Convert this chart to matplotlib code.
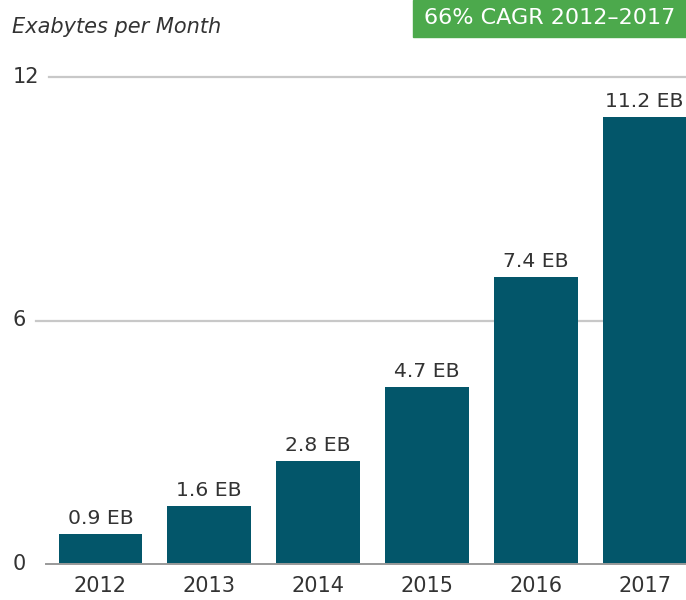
import matplotlib.pyplot as plt
from matplotlib.patches import Rectangle
from matplotlib.transforms import blended_transform_factory

plt.rcParams['font.family'] = ['DejaVu Sans']

# DATA
years = ['2012', '2013', '2014', '2015', '2016', '2017']
heights = [0.74, 1.43, 2.54, 4.36, 7.07, 11.01]   # bar heights as drawn
bar_labels = ['0.9 EB', '1.6 EB', '2.8 EB', '4.7 EB', '7.4 EB', '11.2 EB']
yticks = [0, 6, 12]

bar_color = '#03566a'
text_color = '#333333'

fig = plt.figure(figsize=(6.86, 6.0), dpi=100)
ax = fig.add_axes([46 / 686, 36 / 600, 640 / 686, 487 / 600])

x = range(len(years))
bars = ax.bar(x, heights, width=0.77, color=bar_color, zorder=3)

for rect, lab in zip(bars, bar_labels):
    ax.annotate(lab, (rect.get_x() + rect.get_width() / 2, rect.get_height()),
                xytext=(0, 4.5), textcoords='offset points', ha='center', va='bottom',
                fontsize=14.7, color=text_color)

ax.set_xlim(-0.5, 5.38)
ax.set_ylim(0, 12)

# grid lines (start just right of the tick labels)
ax.plot([-0.593, 5.38], [6, 6], color='#c8c8c8', lw=1.6, clip_on=False, zorder=1)
ax.plot([-0.474, 5.38], [12, 12], color='#c8c8c8', lw=1.6, clip_on=False, zorder=1)
ax.plot([-0.5, 5.38], [0, 0], color='#999999', lw=1.4, clip_on=False, zorder=4)

for s in ax.spines.values():
    s.set_visible(False)

ax.set_xticks(list(x))
ax.set_xticklabels(years, fontsize=15, color=text_color)
ax.tick_params(length=0)
ax.tick_params(axis='x', pad=9)
ax.set_yticks([])

# y tick labels, left aligned near the figure edge
trans = blended_transform_factory(fig.transFigure, ax.transData)
for v in yticks:
    ax.text(13 / 686, v, str(v), transform=trans, ha='left', va='center',
            fontsize=15, color=text_color, clip_on=False)

fig.text(12 / 686, 1 - 27 / 600, 'Exabytes per Month', fontsize=15, style='italic',
         color=text_color, va='center', ha='left')

fig.patches.append(Rectangle((413 / 686, 1 - 37 / 600), 273 / 686, 37 / 600,
                             transform=fig.transFigure, color='#4ca94c', zorder=0))
fig.text((413 + 686) / 2 / 686, 1 - 18 / 600, '66% CAGR 2012–2017', fontsize=16,
         color='white', ha='center', va='center')

fig.savefig('out.png', dpi=100)
